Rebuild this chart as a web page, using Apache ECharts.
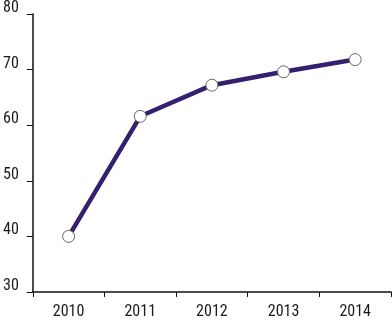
<!DOCTYPE html>
<html><head><meta charset="utf-8">
<script src="https://cdn.jsdelivr.net/npm/echarts@6/dist/echarts.min.js"></script>
<style>html,body{margin:0;padding:0;background:#fff}#c{width:392px;height:320px}</style>
</head><body><div id="c"></div>
<script>
var categories = ['2010','2011','2012','2013','2014'];
var values = [40.0, 61.6, 67.2, 69.6, 71.8];
var yTicks = [30, 40, 50, 60, 70, 80];

var font = "'Roboto Condensed', 'Liberation Sans', sans-serif";
var chart = echarts.init(document.getElementById('c'), null, {renderer:'canvas'});
chart.setOption({
  animation: false,
  grid: {left: 29, right: 1, top: 13, bottom: 25},
  xAxis: {
    type: 'category', data: categories, boundaryGap: true,
    axisLine: {lineStyle: {color: '#111', width: 1.5}},
    axisTick: {show: true, length: 5, lineStyle: {color: '#111'}},
    axisLabel: {color: '#1a1a1a', fontSize: 16, fontFamily: font, margin: 12, lineHeight: 16}
  },
  yAxis: {
    type: 'value', min: yTicks[0], max: yTicks[yTicks.length-1], interval: 10,
    axisLine: {show: true, lineStyle: {color: '#111', width: 1.5}},
    axisTick: {show: true, length: 6, lineStyle: {color: '#111'}},
    splitLine: {show: false},
    axisLabel: {color: '#1a1a1a', fontSize: 16, fontFamily: font, margin: 14, verticalAlign: 'bottom', lineHeight: 12}
  },
  series: [{
    type: 'line', data: values,
    lineStyle: {color: '#34206e', width: 4.5},
    symbol: 'circle', symbolSize: 12,
    itemStyle: {color: '#fff', borderColor: '#666', borderWidth: 1},
    z: 3
  }]
});
</script></body></html>
